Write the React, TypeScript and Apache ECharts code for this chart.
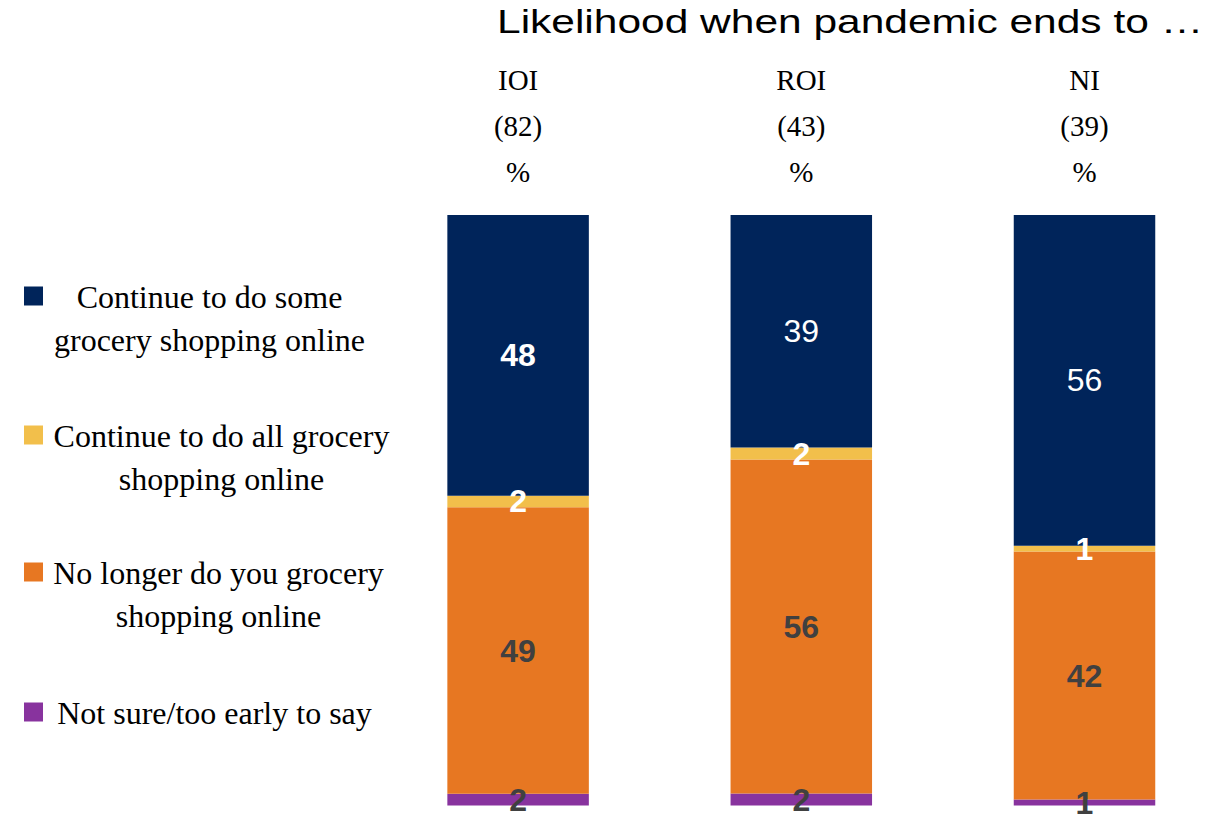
import { useEffect, useRef } from "react";
import * as echarts from "echarts";

const titleText = "Likelihood when pandemic ends to …";
const categories = ["IOI", "ROI", "NI"];
const sampleSizes = [82, 43, 39];

// stacked from bottom to top
const seriesNames = [
  "Not sure/too early to say",
  "No longer do you grocery shopping online",
  "Continue to do all grocery shopping online",
  "Continue to do some grocery shopping online",
];
const notSure = [2, 2, 1];
const noLonger = [49, 56, 42];
const allOnline = [2, 2, 1];
const someOnline = [48, 39, 56];
const seriesValues = [notSure, noLonger, allOnline, someOnline];

const colors = ["#88339E", "#E77722", "#F2BF4B", "#00245A"];
const labelColors = ["#404040", "#404040", "#FFFFFF", "#FFFFFF"];

// legend (top to bottom as in the reference)
const legendLabels = [
  "Continue to do some\ngrocery shopping online",
  "Continue to do all grocery\nshopping online",
  "No longer do you grocery\nshopping online",
  "Not sure/too early to say",
];
const legendColorIndex = [3, 2, 1, 0];

export default function App() {
  const ref = useRef<HTMLDivElement>(null);

  useEffect(() => {
    if (!ref.current) return;
    const chart = echarts.init(ref.current, null, { renderer: "svg" });

    const totals = categories.map((_, i) =>
      seriesValues.reduce((s, arr) => s + arr[i], 0)
    );

    const series = seriesValues.map((vals, si) => ({
      name: seriesNames[si],
      type: "bar",
      stack: "total",
      barWidth: 141.5,
      itemStyle: { color: colors[si] },
      data: vals.map((v, ci) => ({
        value: (v / totals[ci]) * 100,
        label: {
          fontWeight: si === 3 && ci > 0 ? "normal" : "bold",
        },
      })),
      label: {
        show: true,
        position: "inside",
        color: labelColors[si],
        fontFamily: "Liberation Sans, Arial, sans-serif",
        fontSize: 32,
        formatter: (p: any) => String(vals[p.dataIndex]),
      },
    }));

    const legendCenters = [209.5, 221.5, 218.5, 214.5];
    const legendTops = [275.5, 414.5, 551.5, 691.5];
    const graphics: any[] = [];
    legendLabels.forEach((txt, i) => {
      graphics.push({
        type: "rect",
        left: 24,
        top: legendTops[i] + 11,
        shape: { width: 19, height: 19 },
        style: { fill: colors[legendColorIndex[i]] },
      });
      graphics.push({
        type: "text",
        x: legendCenters[i],
        y: legendTops[i],
        style: {
          text: txt,
          font: "32px 'Liberation Serif', 'Times New Roman', serif",
          fill: "#000",
          align: "center",
          verticalAlign: "top",
          lineHeight: 43,
        },
      });
    });
    graphics.push({
      type: "text",
      x: 497,
      y: 21,
      scaleY: 0.8,
      style: {
        text: titleText,
        font: "42.5px 'Liberation Sans', Arial, sans-serif",
        fill: "#000",
        align: "left",
        verticalAlign: "middle",
      },
    });

    chart.setOption({
      animation: false,
      grid: {
        left: 376.5,
        top: 215,
        width: 849.6,
        height: 590.5,
        outerBoundsMode: "none",
        containLabel: false,
      },
      xAxis: {
        type: "category",
        position: "top",
        data: categories,
        axisLine: { show: false },
        axisTick: { show: false },
        axisLabel: {
          margin: 20,
          fontFamily: "Liberation Serif, Times New Roman, serif",
          fontSize: 29,
          lineHeight: 46,
          color: "#000",
          formatter: (v: string, i: number) => `${v}\n(${sampleSizes[i]})\n%`,
        },
      },
      yAxis: { type: "value", min: 0, max: 100, show: false },
      series,
      graphic: graphics,
    });

    return () => chart.dispose();
  }, []);

  return (
    <div
      ref={ref}
      style={{ position: "fixed", left: 0, top: 0, width: 1221, height: 815, background: "#fff" }}
    />
  );
}
